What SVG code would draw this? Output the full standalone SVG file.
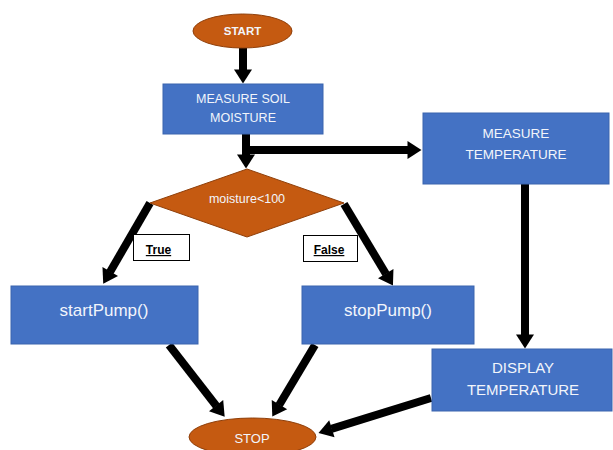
<svg xmlns="http://www.w3.org/2000/svg" width="613" height="450" viewBox="0 0 613 450">
<style>
.box{fill:#4472C4;stroke:#3A64AE;stroke-width:1}
.term{fill:#C55A11;stroke:#8F3F0A;stroke-width:1}
.t{font-family:"Liberation Sans",Arial,sans-serif;fill:#F2F5FB;text-anchor:middle}
.lbl{fill:#ffffff;stroke:#000;stroke-width:1}
.lt{font-family:"Liberation Sans",Arial,sans-serif;font-weight:bold;font-size:12px;fill:#000;text-anchor:middle;text-decoration:underline}
.c{stroke:#000;stroke-width:8;fill:none;marker-end:url(#ah)}
</style>
<defs>
<marker id="ah" markerUnits="userSpaceOnUse" markerWidth="14" markerHeight="18" refX="0.5" refY="9" orient="auto" overflow="visible">
<path d="M0,0 L14,9 L0,18 z" fill="#000"/>
</marker>
</defs>
<rect width="613" height="450" fill="#fff"/>
<g id="connectors">
<line class="c" x1="243" y1="48" x2="243" y2="70"/>
<line class="c" x1="246" y1="134" x2="246" y2="155"/>
<line class="c" x1="246" y1="150" x2="408" y2="150"/>
<line class="c" x1="150" y1="203" x2="110" y2="272"/>
<line class="c" x1="344" y1="204" x2="386" y2="274"/>
<line class="c" x1="525" y1="184" x2="525" y2="335"/>
<line class="c" x1="169" y1="345" x2="216.4" y2="406"/>
<line class="c" x1="315" y1="345" x2="279.2" y2="405"/>
<line class="c" x1="431" y1="398" x2="331.4" y2="428.9"/>
</g>
<g id="start">
<ellipse class="term" cx="242.5" cy="31" rx="49.5" ry="17"/>
<text class="t" x="242.5" y="35" font-size="11.5" font-weight="bold">START</text>
</g>
<g id="measure-soil">
<rect class="box" x="163" y="84" width="160" height="50"/>
<text class="t" x="243" y="103" font-size="12.5">MEASURE SOIL</text>
<text class="t" x="243" y="122" font-size="12.5">MOISTURE</text>
</g>
<g id="measure-temp">
<rect class="box" x="423" y="113" width="186" height="71"/>
<text class="t" x="516" y="138" font-size="13.5">MEASURE</text>
<text class="t" x="516" y="159" font-size="13.5">TEMPERATURE</text>
</g>
<g id="decision">
<polygon fill="#C55A11" stroke="#8F3F0A" stroke-width="1" points="247,169 344,203 247,237 150,203"/>
<text class="t" x="247" y="203" font-size="12.5">moisture&lt;100</text>
</g>
<g id="true-label">
<rect class="lbl" x="133.5" y="234.5" width="56" height="26"/>
<text class="lt" x="158.5" y="254">True</text>
</g>
<g id="false-label">
<rect class="lbl" x="303.5" y="235.5" width="54" height="26"/>
<text class="lt" x="329" y="254">False</text>
</g>
<g id="start-pump">
<rect class="box" x="11" y="286" width="187" height="58"/>
<text class="t" x="104" y="316" font-size="17">startPump()</text>
</g>
<g id="stop-pump">
<rect class="box" x="302" y="286" width="172" height="58"/>
<text class="t" x="388" y="316" font-size="17">stopPump()</text>
</g>
<g id="display-temp">
<rect class="box" x="432" y="349" width="180" height="62"/>
<text class="t" x="523" y="373" font-size="15">DISPLAY</text>
<text class="t" x="523" y="395" font-size="15">TEMPERATURE</text>
</g>
<g id="stop">
<ellipse class="term" cx="252.5" cy="437" rx="63.5" ry="19"/>
<text class="t" x="252" y="443" font-size="13">STOP</text>
</g>
</svg>
